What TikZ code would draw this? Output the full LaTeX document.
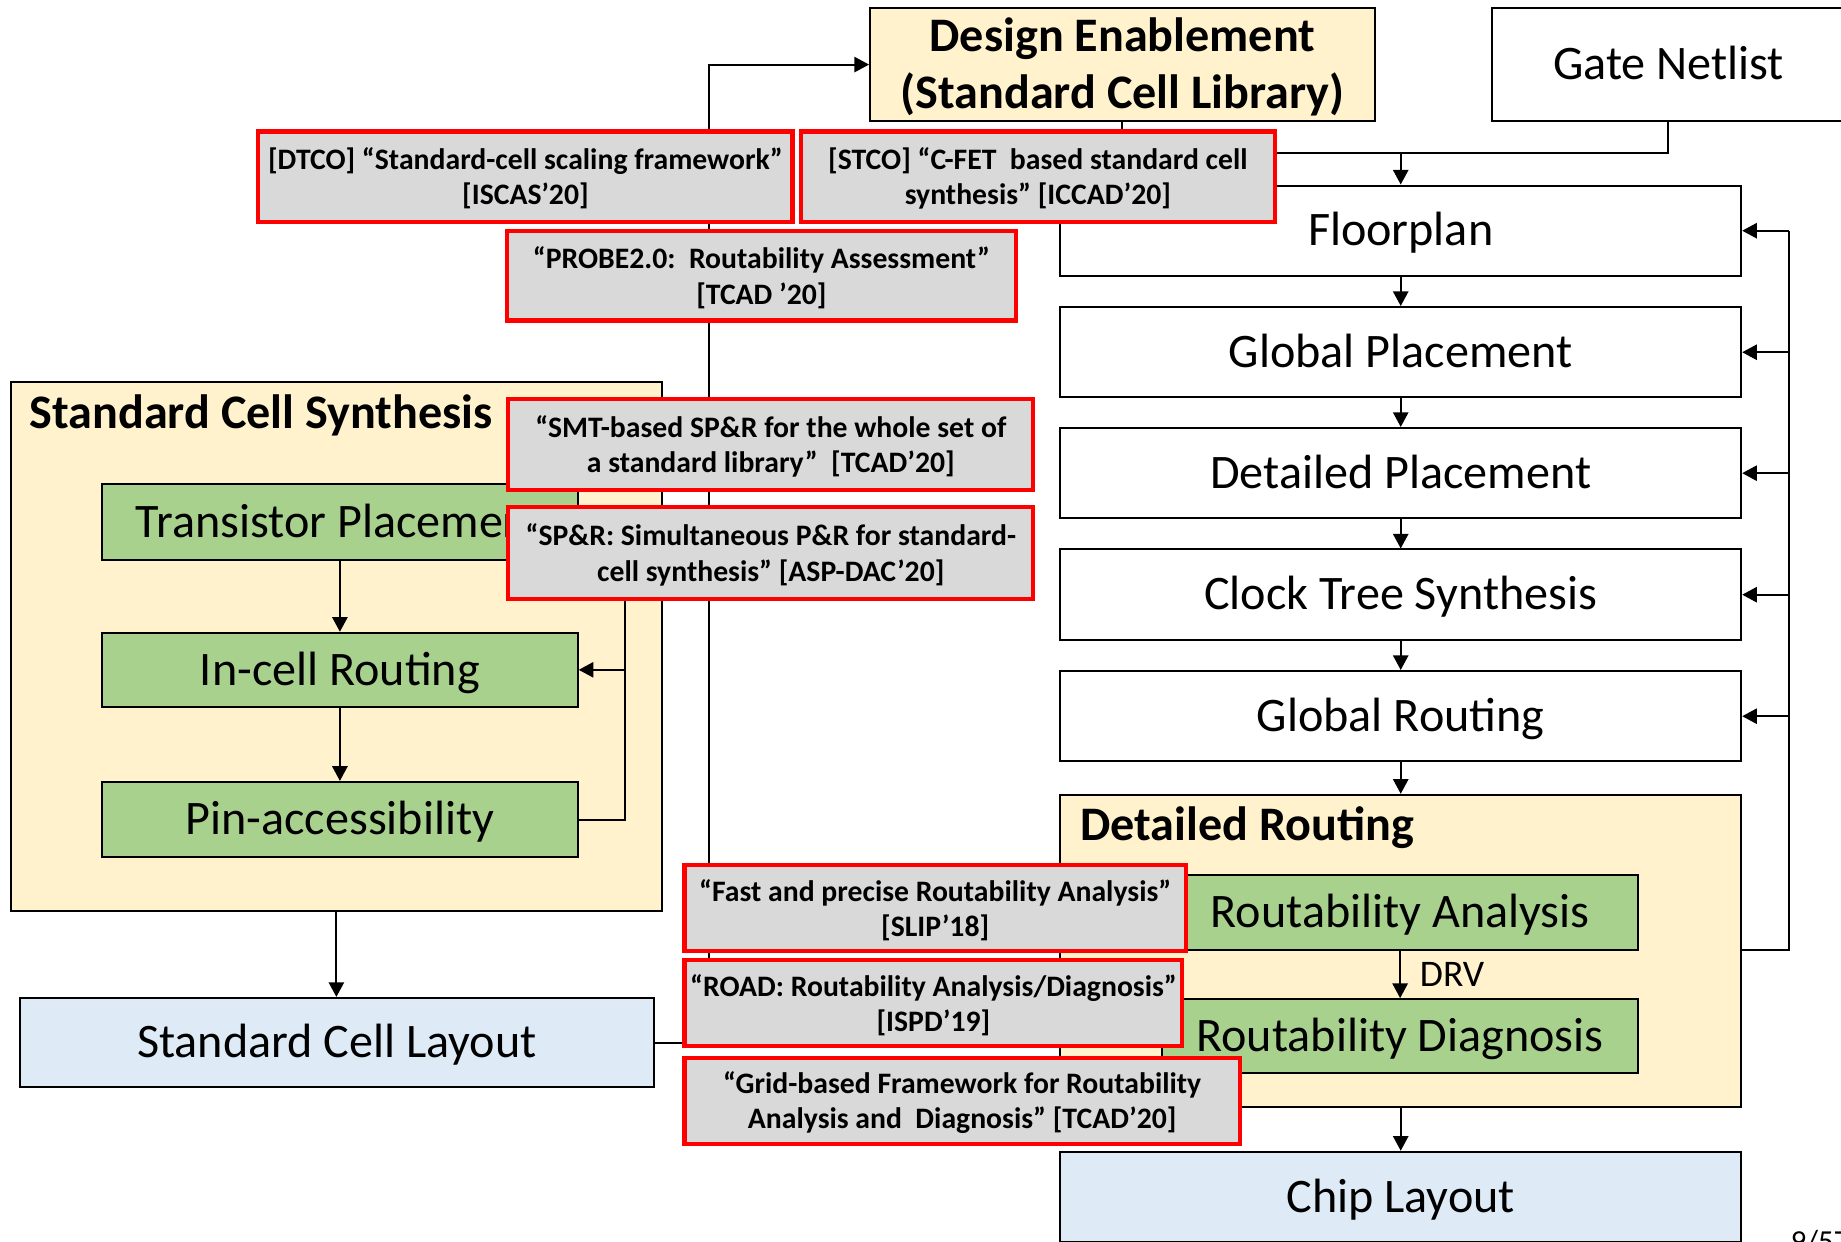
\documentclass[tikz,border=0pt]{standalone}
\usepackage{fontspec}
\setmainfont{Carlito}
\usetikzlibrary{arrows.meta,positioning}

\definecolor{cellyellow}{HTML}{FFF2CC}
\definecolor{stepgreen}{HTML}{A9D18E}
\definecolor{layoutblue}{HTML}{DEEBF7}
\definecolor{refgray}{HTML}{D9D9D9}
\definecolor{refred}{HTML}{FF0000}

% two centred lines with a fixed line pitch, set #1 lower in the box
\newcommand{\twolines}[2][3pt]{\raisebox{0pt}[\dimexpr\height+#1\relax][\dimexpr\depth-#1\relax]{\begin{tabular}{@{}c@{}}#2\end{tabular}}}

\begin{document}
\begin{tikzpicture}[x=1pt,y=-1pt]
\tikzstyle{stage} = [rectangle, draw=black, line width=1.7pt, fill=white,
minimum width=580pt, minimum height=77pt, text height=34pt, text depth=8pt,
font=\fontsize{41}{48}\selectfont]
\tikzstyle{substep} = [rectangle, draw=black, line width=1.8pt, fill=stepgreen,
minimum width=405pt, minimum height=64pt, text height=34pt, text depth=8pt,
font=\fontsize{41}{48}\selectfont]
\tikzstyle{group} = [rectangle, draw=black, line width=1.8pt, fill=cellyellow];
\tikzstyle{layout} = [rectangle, draw=black, line width=1.8pt, fill=layoutblue,
minimum height=77pt, text height=34pt, text depth=8pt, font=\fontsize{41}{48}\selectfont]
\tikzstyle{title} = [anchor=base west, inner sep=0pt, font=\bfseries\fontsize{41}{48}\selectfont];
\tikzstyle{paper} = [rectangle, draw=refred, line width=3.5pt, fill=refgray,
inner sep=0pt, font=\bfseries\fontsize{25.3}{30}\selectfont]
\tikzstyle{wire} = [draw, line width=1.7pt];
\tikzstyle{line} = [draw, line width=1.7pt, -{Triangle[length=12.5pt,width=13pt]}];

\useasboundingbox (0,0) rectangle (1568,1057);

% inputs
\node [rectangle, draw=black, line width=1.7pt, fill=cellyellow, inner sep=0pt,
minimum width=430pt, minimum height=96pt, font=\bfseries\fontsize{41}{48}\selectfont]
(design) at (956,55) {\twolines[3.5pt]{Design Enablement\\(Standard Cell Library)}};
\node [stage, minimum width=300pt, minimum height=96pt] (netlist) at (1421,55) {Gate Netlist};

% P&R flow
\node [stage] (floorplan) at (1193,196.5) {Floorplan};
\node [stage] (gplace) at (1193,300) {Global Placement};
\node [stage] (dplace) at (1193,403) {Detailed Placement};
\node [stage] (cts) at (1193,506.5) {Clock Tree Synthesis};
\node [stage] (groute) at (1193,610) {Global Routing};
\node [group, minimum width=580pt, minimum height=266pt] (droute) at (1193,810) {};
\node [title] (drtitle) at (920,716) {Detailed Routing};
\node [substep] (analysis) at (1192.5,777) {Routability Analysis};
\node [substep, minimum height=63pt] (diagnosis) at (1192.5,882.5) {Routability Diagnosis};
\node [layout, minimum width=580pt] (chip) at (1193,1019.5) {Chip Layout};

% cell synthesis
\node [group, minimum width=555pt, minimum height=451pt] (synth) at (286.5,550.5) {};
\node [title] (sctitle) at (25,365) {Standard Cell Synthesis};
\node [substep, minimum height=65pt] (tplace) at (289.5,444.5) {Transistor Placement};
\node [substep, minimum height=63pt] (incell) at (289.5,570.5) {In-cell Routing};
\node [substep] (pinacc) at (289.5,698) {Pin-accessibility};
\node [layout, minimum width=540pt, minimum height=76pt] (celllayout) at (287,888) {Standard Cell Layout};

\coordinate (libbus) at (604,0);
\coordinate (merge) at (1193,130);
\coordinate (fb) at (1524,809);
\coordinate (sfb) at (532,698);

% connectors
\path [line] (synth.south) -- (synth.south |- celllayout.north);
\path [line] (celllayout.east) -| (libbus |- design.west) -- (design.west);
\path [wire] (design.south) |- (merge) -| (netlist.south);
\path [line] (merge) -- (floorplan.north);
\path [line] (floorplan) -- (gplace);
\path [line] (gplace) -- (dplace);
\path [line] (dplace) -- (cts);
\path [line] (cts) -- (groute);
\path [line] (groute) -- (droute);
\path [line] (analysis) -- node [right=16pt, inner sep=0pt, font=\fontsize{32}{36}\selectfont] {DRV} (diagnosis);
\path [line] (droute) -- (chip);
\path [line] (tplace) -- (incell);
\path [line] (incell) -- (pinacc);

% feedback loops
\path [wire] (droute.east |- fb) -- (fb) -- (fb |- floorplan.east);
\path [line] (fb |- floorplan.east) -- (floorplan.east);
\path [line] (fb |- gplace.east) -- (gplace.east);
\path [line] (fb |- dplace.east) -- (dplace.east);
\path [line] (fb |- cts.east) -- (cts.east);
\path [line] (fb |- groute.east) -- (groute.east);
\path [wire] (pinacc.east) -| (sfb |- tplace.east);
\path [line] (sfb |- incell.east) -- (incell.east);

% related papers
\node [paper, minimum width=455pt, minimum height=77pt] (dtco) at (447.5,150.5)
{\twolines{[DTCO] “Standard-cell scaling framework”\\ {[ISCAS’20]}}};
\node [paper, minimum width=404pt, minimum height=77pt] (stco) at (884,150.5)
{\twolines{[STCO] “C-FET\ \ based standard cell\\ synthesis” [ICCAD’20]}};
\node [paper, minimum width=433pt, minimum height=76pt] (probe) at (648.5,235)
{\twolines{“PROBE2.0:\ \ Routability Assessment”\\ {[TCAD ’20]}}};
\node [paper, minimum width=447pt, minimum height=77pt] (smt) at (656.5,378.5)
{\twolines{“SMT-based SP\&R for the whole set of\\ a standard library”\ \ [TCAD’20]}};
\node [paper, minimum width=447pt, minimum height=78pt] (spr) at (656.5,471)
{\twolines{“SP\&R: Simultaneous P\&R for standard-\\ cell synthesis” [ASP-DAC’20]}};
\node [paper, minimum width=427pt, minimum height=73pt] (fast) at (796.5,773.5)
{\twolines{“Fast and precise Routability Analysis”\\ {[SLIP’18]}}};
\node [paper, minimum width=424pt, minimum height=73pt] (road) at (795,854.5)
{\twolines{“ROAD: Routability Analysis/Diagnosis”\\ {[ISPD’19]}}};
\node [paper, minimum width=473pt, minimum height=73pt] (grid) at (819.5,937.5)
{\twolines{“Grid-based Framework for Routability\\ Analysis and\ \ Diagnosis” [TCAD’20]}};

\node [anchor=base west, inner sep=0pt, font=\fontsize{26}{30}\selectfont] (pageno) at (1525,1066) {9/57};
\end{tikzpicture}
\end{document}
